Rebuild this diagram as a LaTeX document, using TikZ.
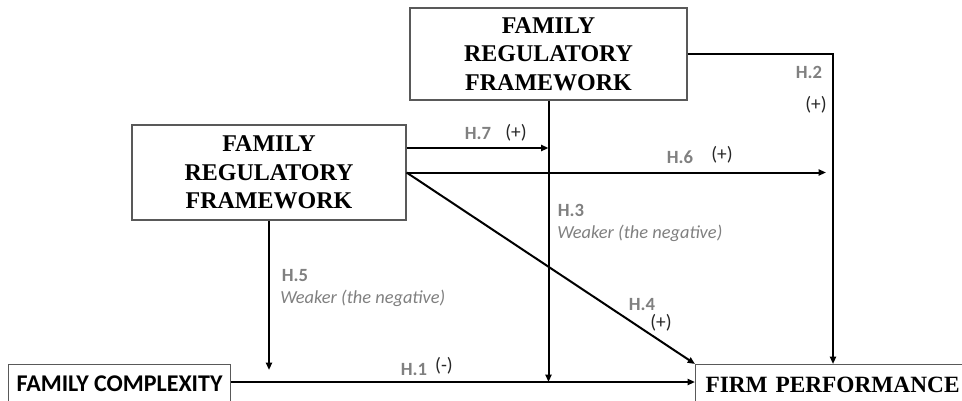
\documentclass[tikz,border=0pt]{standalone}
\usepackage{fontspec}
\setmainfont{Liberation Serif}
\newfontfamily\carl{Carlito}
\usetikzlibrary{arrows.meta}
\begin{document}
\begin{tikzpicture}[x=0.75pt,y=-0.75pt,
  bigbox/.style={draw=black!65,line width=0.8pt,align=center,inner sep=0pt,
    font=\fontsize{18}{21.4}\selectfont\bfseries},
  arr/.style={line width=1.5pt,-{Triangle[length=5.5pt,width=4.5pt]}},
  hlab/.style={font=\carl\fontsize{14}{16}\selectfont\bfseries,text=black!50,inner sep=0pt},
  sgn/.style={font=\carl\fontsize{14.5}{16}\selectfont,text=black!85,inner sep=0pt},
  wlab/.style={font=\carl\fontsize{13.8}{16}\selectfont\itshape,text=black!50,inner sep=0pt,anchor=west}]
\useasboundingbox (0,0) rectangle (962,400);
\clip (0,0) rectangle (962,400);
% boxes
\node[bigbox,minimum width=207.75pt,minimum height=69pt] (t1) at (548.5,54)
  {FAMILY\\REGULATORY\\FRAMEWORK};
\node[bigbox,minimum width=205.5pt,minimum height=71.25pt] (t2) at (269,172.5)
  {FAMILY\\REGULATORY\\FRAMEWORK};
\node[bigbox,font=\carl\fontsize{18}{21}\selectfont\bfseries,anchor=north west,
  minimum width=166.5pt,text height=11.8pt,text depth=30pt,inner ysep=8.3pt] (fc) at (8,364)
  {FAMILY COMPLEXITY};
\node[bigbox,font=\fontsize{17.5}{21}\selectfont\bfseries,anchor=north west,align=left,
  text width=260pt,inner xsep=7.5pt,
  text height=11.6pt,text depth=30pt,inner ysep=9pt] (fp) at (695,364)
  {FIRM PERFORMANCE};
% helper coordinates
\coordinate (h1) at (0,382);
\coordinate (h7) at (0,148);
\coordinate (h2) at (833,54);
\coordinate (h6end) at (826,172.5);
\coordinate (h5end) at (269,370);
% connectors
\draw[arr] (fc.east |- h1) -- (fp.west |- h1);
\draw[arr] (t1.south) -- (t1.south |- h1);
\draw[arr] (t1.east) -- (h2) -- (fp.north -| h2);
\draw[arr] (t2.east |- h7) -- (t1.south |- h7);
\draw[arr] (t2.east) -- (h6end);
\draw[arr] (t2.east) -- (fp.north west);
\draw[arr] (t2.south) -- (h5end);
% labels
\node[hlab] (l1) at (414,369) {H.1};
\node[sgn] (s1) at (444,366) {(-)};
\node[hlab] (l2) at (809,72) {H.2};
\node[sgn] (s2) at (816,105) {(+)};
\node[hlab] (l3) at (571,210) {H.3};
\node[wlab] (w3) at (557,233) {Weaker (the negative)};
\node[hlab] (l4) at (642,304) {H.4};
\node[sgn] (s4) at (661,323) {(+)};
\node[hlab] (l5) at (295,276) {H.5};
\node[wlab] (w5) at (280,298) {Weaker (the negative)};
\node[hlab] (l6) at (680,157) {H.6};
\node[sgn] (s6) at (722,155) {(+)};
\node[hlab] (l7) at (478,134) {H.7};
\node[sgn] (s7) at (516,133) {(+)};
\end{tikzpicture}
\end{document}
